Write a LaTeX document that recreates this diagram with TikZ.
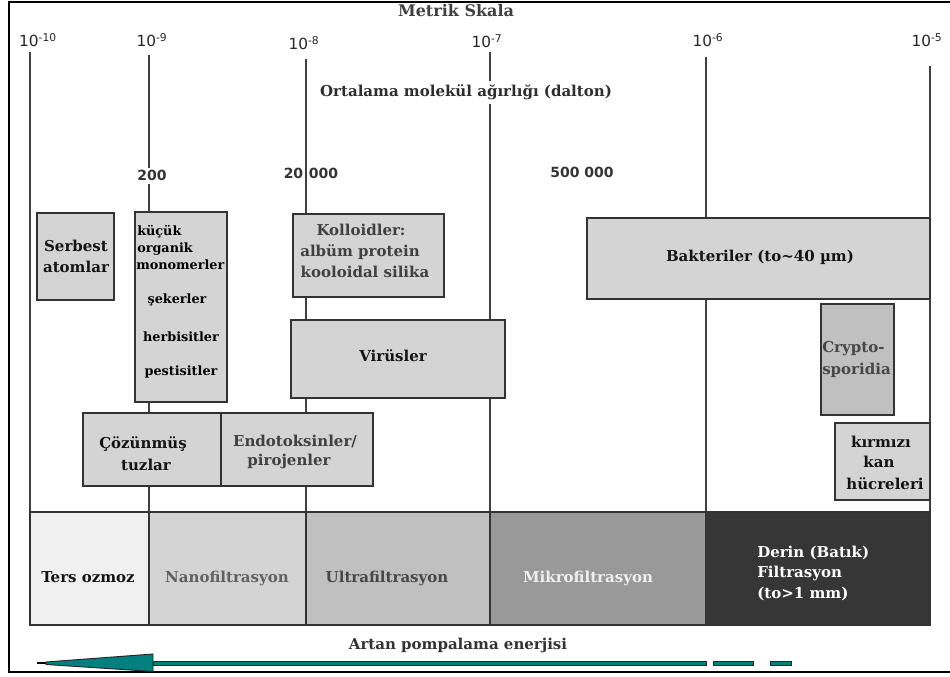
\documentclass[tikz,border=0pt]{standalone}
\usepackage{fontspec}
\setmainfont{DejaVu Serif}
\newfontfamily\numfont{DejaVu Sans}
\usetikzlibrary{fit}
\definecolor{boxfill}{HTML}{D4D4D4}
\definecolor{cryfill}{HTML}{C0C0C0}
\definecolor{bandA}{HTML}{F0F0F0}
\definecolor{bandB}{HTML}{D4D4D4}
\definecolor{bandC}{HTML}{C0C0C0}
\definecolor{bandD}{HTML}{999999}
\definecolor{bandE}{HTML}{363636}
\definecolor{arrowteal}{HTML}{00807E}
\newcommand\lblfont{\bfseries\fontsize{11.25}{13}\selectfont}
\newcommand\smlfont{\bfseries\fontsize{9.6}{11}\selectfont}
\newcommand\expfont{\numfont\fontsize{11.5}{13}\selectfont}
\newcommand\molfont{\numfont\bfseries\fontsize{10.5}{12}\selectfont}
\tikzset{
  vline/.style={draw=black!75, line width=1pt},
  gbox/.style={draw=black!80, line width=1.1pt, fill=boxfill, inner sep=0pt},
  bandbox/.style={draw=black!80, line width=1.1pt, inner sep=0pt},
  lbl/.style={font=\lblfont, inner sep=0pt, anchor=base, text=black!92},
  sml/.style={font=\smlfont, inner sep=0pt, anchor=base, text=black},
  expo/.style={font=\expfont, inner sep=0pt, anchor=base, text=black!85},
  mol/.style={font=\molfont, inner sep=0pt, anchor=base, text=black!80},
  arr/.style={fill=arrowteal, draw=black!85, line width=0.7pt},
}
\begin{document}
\begin{tikzpicture}[x=0.75pt,y=-0.75pt]
\clip (0,0) rectangle (950,677);
\fill[white] (0,0) rectangle (950,677);
% outer frame (right side lies beyond the picture)
\draw[black, line width=1.5pt] (960,2) -- (9,2) -- (9,672) -- (960,672);

% title texts
\node[lbl, text=black!75, font=\bfseries\fontsize{12}{14}\selectfont] (title) at (456,17) {Metrik Skala};

% scale coordinates
\coordinate (t10) at (30,52);  \coordinate (b10) at (30,512);
\coordinate (t9)  at (149,55); \coordinate (b9)  at (149,512);
\coordinate (t8)  at (306,59); \coordinate (b8)  at (306,512);
\coordinate (t7)  at (490,52); \coordinate (b7)  at (490,512);
\coordinate (t6)  at (706,57); \coordinate (b6)  at (706,512);
\coordinate (t5)  at (930,66); \coordinate (b5)  at (930,512);
\foreach \a/\b in {t10/b10,t9/b9,t8/b8,t7/b7,t6/b6,t5/b5}{\draw[vline] (\a) -- (\b);}

% exponent labels
\node[expo] (e10) at (38,47)  {10\textsuperscript{-10}};
\node[expo] (e9)  at (152,47) {10\textsuperscript{-9}};
\node[expo] (e8)  at (304,50) {10\textsuperscript{-8}};
\node[expo] (e7)  at (487,48) {10\textsuperscript{-7}};
\node[expo] (e6)  at (708,47) {10\textsuperscript{-6}};
\node[expo] (e5)  at (927,47) {10\textsuperscript{-5}};

% molecular weight
\node[lbl, text=black!82, fill=white, inner xsep=2pt, inner ysep=3pt] (mw) at (466,97) {Ortalama molekül ağırlığı (dalton)};
\node[mol, fill=white, inner xsep=1pt, inner ysep=2pt] (m200) at (152,181) {200};
\node[mol, anchor=base east] (m20a) at (303.5,179) {20};
\node[mol, anchor=base west] (m20b) at (308.5,179) {000};
\node[mol] (m500) at (582,178) {500 000};

% boxes
\node[gbox, fit={(37,213) (114,300)}] (serbest) {};
\node[lbl] (s1) at (76,252) {Serbest};
\node[lbl] (s2) at (76,273) {atomlar};

\node[gbox, fit={(135,212) (227,402)}] (kucuk) {};
\node[sml, anchor=base west] (k1) at (137,236) {küçük};
\node[sml, anchor=base west] (k2) at (137,253) {organik};
\node[sml, anchor=base west] (k3) at (136,270) {monomerler};
\node[sml] (k4) at (177,304) {şekerler};
\node[sml] (k5) at (181,342) {herbisitler};
\node[sml] (k6) at (181,376) {pestisitler};

\node[gbox, fit={(293,214) (444,297)}] (koll) {};
\node[lbl, text=black!75] (c1) at (361,236) {Kolloidler:};
\node[lbl, text=black!75] (c2) at (360,257) {albüm protein};
\node[lbl, text=black!75] (c3) at (365,278) {kooloidal silika};

\node[gbox, fit={(291,320) (505,398)}] (virus) {};
\node[lbl] (v1) at (393,362) {Virüsler};

\node[gbox, fit={(587,218) (930,299)}] (bakt) {};
\node[lbl] (b1) at (760,262) {Bakteriler (to\textasciitilde40 µm)};

\node[gbox, fill=cryfill, fit={(821,304) (894,415)}] (crypto) {};
\node[lbl, text=black!72, anchor=base west] (cr1) at (822,353) {Crypto-};
\node[lbl, text=black!72, anchor=base west] (cr2) at (822,374) {sporidia};

\node[gbox, fit={(835,423) (930,500)}] (kan) {};
\node[lbl] (r1) at (881,447) {kırmızı};
\node[lbl] (r2) at (879,467) {kan};
\node[lbl] (r3) at (885,489) {hücreleri};

\node[gbox, fit={(83,413) (221,486)}] (tuz) {};
\node[lbl] (z1) at (143,448) {Çözünmüş};
\node[lbl] (z2) at (146,470) {tuzlar};

\node[gbox, fit={(221,413) (373,486)}] (endo) {};
\node[lbl, text=black!75] (n1) at (295,446) {Endotoksinler/};
\node[lbl, text=black!75] (n2) at (289,465) {pirojenler};

% process band
\node[bandbox, fill=bandA, fit={(30,512) (149,625)}] (ro) {};
\node[bandbox, fill=bandB, fit={(149,512) (306,625)}] (nf) {};
\node[bandbox, fill=bandC, fit={(306,512) (490,625)}] (uf) {};
\node[bandbox, fill=bandD, fit={(490,512) (706,625)}] (mf) {};
\node[bandbox, fill=bandE, fit={(706,512) (930,625)}] (df) {};
\node[lbl] (ro1) at (88,582) {Ters ozmoz};
\node[lbl, text=black!62] (nf1) at (227,582) {Nanofiltrasyon};
\node[lbl, text=black!72] (uf1) at (387,582) {Ultrafiltrasyon};
\node[lbl, text=black!6] (mf1) at (588,582) {Mikrofiltrasyon};
\node[lbl, text=white, anchor=base west] (df1) at (757,557) {Derin (Batık)};
\node[lbl, text=white, anchor=base west] (df2) at (757,577) {Filtrasyon};
\node[lbl, text=white, anchor=base west] (df3) at (757,598) {(to>1 mm)};

% pumping energy
\node[lbl, text=black!80] (pump) at (458,649) {Artan pompalama enerjisi};
\coordinate (tipA) at (37,663);
\coordinate (tipB) at (47,663);
\draw[black, line width=1pt] (tipA) -- (tipB);
\draw[arr] (46,662) -- (153,654) -- (153,671.5) -- (46,664.5) -- cycle;
\draw[arr, line width=0.6pt] (153,661.5) rectangle (706,665);
\draw[arr, line width=0.6pt] (713,661.5) rectangle (753,665);
\draw[arr, line width=0.6pt] (770,661.5) rectangle (791,665);
\end{tikzpicture}
\end{document}
